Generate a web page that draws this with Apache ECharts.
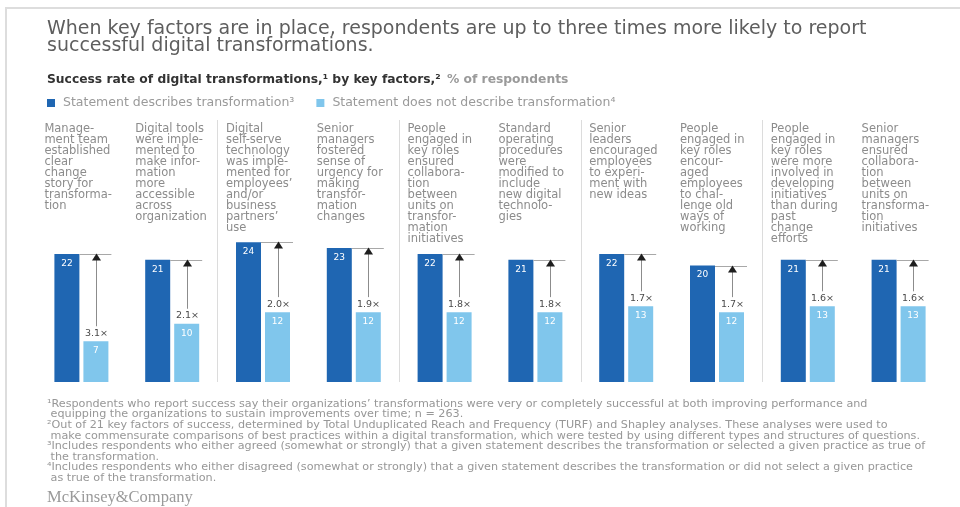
<!DOCTYPE html>
<html>
<head>
<meta charset="utf-8">
<script src="https://cdn.jsdelivr.net/npm/echarts@6/dist/echarts.min.js"></script>
<style>
html,body{margin:0;padding:0;background:#fff;}
#chart{width:960px;height:507px;}
</style>
</head>
<body>
<div id="chart"></div>
<script>
// ---------------- data ----------------
const titleLines = [
  'When key factors are in place, respondents are up to three times more likely to report',
  'successful digital transformations.'
];
const subtitleBold = 'Success rate of digital transformations,\u00b9 by key factors,\u00b2';
const subtitleUnit = '% of respondents';
const legendNames = [
  'Statement describes transformation\u00b3',
  'Statement does not describe transformation\u2074'
];
const categories = [
  'Manage-\nment team\nestablished\nclear\nchange\nstory for\ntransforma-\ntion',
  'Digital tools\nwere imple-\nmented to\nmake infor-\nmation\nmore\naccessible\nacross\norganization',
  'Digital\nself-serve\ntechnology\nwas imple-\nmented for\nemployees\u2019\nand/or\nbusiness\npartners\u2019\nuse',
  'Senior\nmanagers\nfostered\nsense of\nurgency for\nmaking\ntransfor-\nmation\nchanges',
  'People\nengaged in\nkey roles\nensured\ncollabora-\ntion\nbetween\nunits on\ntransfor-\nmation\ninitiatives',
  'Standard\noperating\nprocedures\nwere\nmodified to\ninclude\nnew digital\ntechnolo-\ngies',
  'Senior\nleaders\nencouraged\nemployees\nto experi-\nment with\nnew ideas',
  'People\nengaged in\nkey roles\nencour-\naged\nemployees\nto chal-\nlenge old\nways of\nworking',
  'People\nengaged in\nkey roles\nwere more\ninvolved in\ndeveloping\ninitiatives\nthan during\npast\nchange\nefforts',
  'Senior\nmanagers\nensured\ncollabora-\ntion\nbetween\nunits on\ntransforma-\ntion\ninitiatives'
];
const describesValues    = [22, 21, 24, 23, 22, 21, 22, 20, 21, 21];
const notDescribesValues = [7, 10, 12, 12, 12, 12, 13, 12, 13, 13];
const multiplierLabels   = ['3.1\u00d7', '2.1\u00d7', '2.0\u00d7', '1.9\u00d7', '1.8\u00d7', '1.8\u00d7', '1.7\u00d7', '1.7\u00d7', '1.6\u00d7', '1.6\u00d7'];
const footnotes = [
  '\u00b9Respondents who report success say their organizations\u2019 transformations were very or completely successful at both improving performance and',
  ' equipping the organizations to sustain improvements over time; n = 263.',
  '\u00b2Out of 21 key factors of success, determined by Total Unduplicated Reach and Frequency (TURF) and Shapley analyses. These analyses were used to',
  ' make commensurate comparisons of best practices within a digital transformation, which were tested by using different types and structures of questions.',
  '\u00b3Includes respondents who either agreed (somewhat or strongly) that a given statement describes the transformation or selected a given practice as true of',
  ' the transformation.',
  '\u2074Includes respondents who either disagreed (somewhat or strongly) that a given statement describes the transformation or did not select a given practice',
  ' as true of the transformation.'
];
const brand = 'McKinsey&Company';

// ---------------- style ----------------
const FONT = 'DejaVu Sans';
const DARK = '#1f66b2';
const LIGHT = '#80c6ec';
const BAR_W = 25;
const GAP = 4;

const chart = echarts.init(document.getElementById('chart'), null, {renderer: 'canvas'});

const option = {
  backgroundColor: '#ffffff',
  animation: false,
  textStyle: {fontFamily: FONT},
  graphic: [
    {type: 'polyline', silent: true, shape: {points: [[6, 507], [6, 8], [960, 8]]},
     style: {stroke: '#dddddd', lineWidth: 2, fill: null}}
  ],
  title: [
    {text: titleLines.join('\n'), left: 47, top: 20, padding: 0,
     textStyle: {fontFamily: FONT, fontSize: 19, fontWeight: 'normal', color: '#5e5e5e', lineHeight: 17.5}},
    {text: '{b|' + subtitleBold + '} {n|' + subtitleUnit + '}', left: 47, top: 71, padding: 0,
     textStyle: {rich: {
       b: {fontFamily: FONT, fontSize: 12.3, fontWeight: 'bold', color: '#333333', lineHeight: 12},
       n: {fontFamily: FONT, fontSize: 12.3, color: '#9a9a9a', lineHeight: 12}
     }}},
    {text: footnotes.join('\n'), left: 47, top: 398.5, padding: 0,
     textStyle: {fontFamily: FONT, fontSize: 11.2, fontWeight: 'normal', color: '#979797', lineHeight: 10.6}},
    {text: brand, left: 47, top: 489, padding: 0,
     textStyle: {fontFamily: 'Liberation Serif', fontSize: 16.5, fontWeight: 'normal', color: '#9a9a9a'}}
  ],
  legend: {
    data: legendNames, left: 47, top: 96.5, padding: 0, itemWidth: 8, itemHeight: 8,
    itemGap: 22, icon: 'rect', selectedMode: false,
    textStyle: {fontFamily: FONT, fontSize: 12.5, color: '#9a9a9a', padding: [0, 0, 0, 3]}
  },
  grid: {left: 36, right: 16, top: 120, bottom: 125, containLabel: false},
  xAxis: [
    {type: 'category', data: categories, position: 'bottom',
     axisLine: {show: false}, axisTick: {show: false}, axisLabel: {show: false},
     splitLine: {show: true, showMinLine: false, showMaxLine: false, lineStyle: {color: '#dcdcdc', width: 1}}},
    {type: 'category', data: categories, position: 'top',
     axisLine: {show: false}, axisTick: {show: false}, splitLine: {show: false},
     axisLabel: {
       show: true, inside: true, margin: 4, interval: 0, align: 'center', verticalAlign: 'top',
       formatter: function (v) {
         return v.split('\n').map(function (s) { return '{t|' + s + '}'; }).join('\n');
       },
       rich: {t: {fontFamily: FONT, fontSize: 11.5, color: '#8c8c8c', align: 'left', width: 74, lineHeight: 11}}
     }}
  ],
  yAxis: {type: 'value', min: 0, max: 45, show: false, splitLine: {show: false}},
  series: [
    {type: 'bar', name: legendNames[0], data: describesValues, barWidth: BAR_W, barGap: (GAP / BAR_W * 100) + '%',
     itemStyle: {color: DARK}, silent: true,
     label: {show: true, position: 'insideTop', distance: 5, color: '#ffffff', fontSize: 9, fontFamily: FONT}},
    {type: 'bar', name: legendNames[1], data: notDescribesValues, barWidth: BAR_W,
     itemStyle: {color: LIGHT}, silent: true,
     label: {show: true, position: 'insideTop', distance: 5, color: '#ffffff', fontSize: 9, fontFamily: FONT}},
    {type: 'custom', name: 'ratio', silent: true, z: 5,
     data: describesValues.map(function (d, i) { return [i, d, notDescribesValues[i]]; }),
     encode: {x: 0, y: [1, 2]},
     renderItem: function (params, api) {
       const i = api.value(0), d = api.value(1), l = api.value(2);
       const top = api.coord([i, d]);
       const low = api.coord([i, l]);
       const cx = top[0];
       const half = (BAR_W * 2 + GAP) / 2;
       const darkRight = cx - half + BAR_W;
       const lightCenter = Math.round(cx + half - BAR_W / 2) + 0.5;
       const lightRight = cx + half;
       const yTop = Math.round(top[1]) + 0.5;
       return {type: 'group', children: [
         {type: 'line', shape: {x1: darkRight, y1: yTop, x2: lightRight + 3, y2: yTop},
          style: {stroke: '#a8a8a8', lineWidth: 1}},
         {type: 'line', shape: {x1: lightCenter, y1: low[1] - 15, x2: lightCenter, y2: yTop + 5},
          style: {stroke: '#8c8c8c', lineWidth: 1}},
         {type: 'polygon', shape: {points: [[lightCenter, yTop - 1], [lightCenter - 4.5, yTop + 6], [lightCenter + 4.5, yTop + 6]]},
          style: {fill: '#1e1e1e'}},
         {type: 'text', x: lightCenter, y: low[1] - 3,
          style: {text: multiplierLabels[params.dataIndex], align: 'center', verticalAlign: 'bottom',
                  fontSize: 9.5, fill: '#4a4a4a', fontFamily: FONT}}
       ]};
     }}
  ]
};
chart.setOption(option);
</script>
</body>
</html>
